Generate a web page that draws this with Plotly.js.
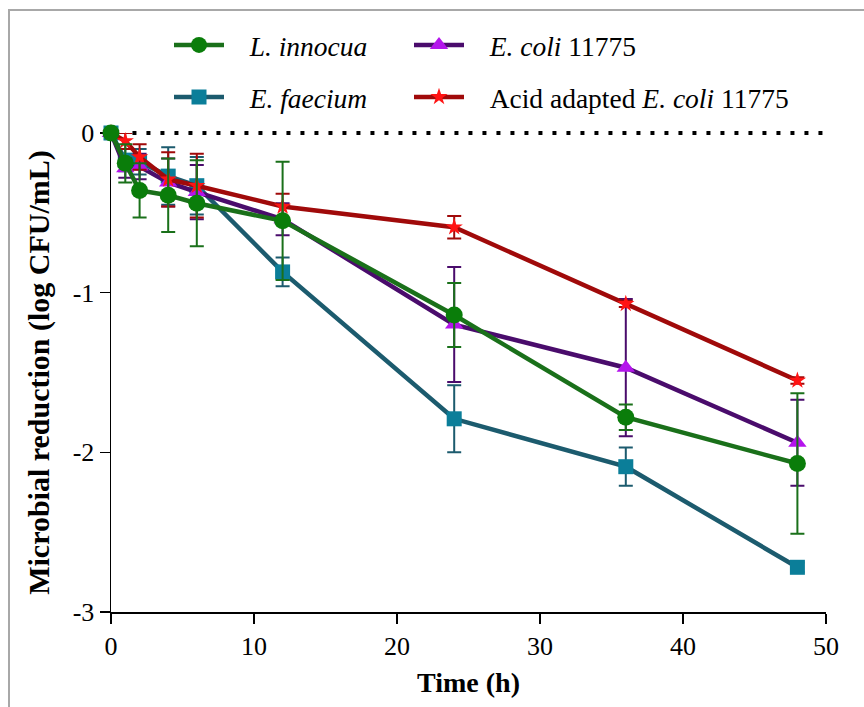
<!DOCTYPE html>
<html>
<head>
<meta charset="utf-8">
<script src="https://cdn.plot.ly/plotly-3.0.1.min.js"></script>
<style>
  html, body { margin: 0; padding: 0; background: #fff; }
  #wrap { position: relative; width: 864px; height: 707px; }
  #chart { position: absolute; left: 0; top: 0; width: 864px; height: 707px; }
  #frame { position: absolute; left: 8px; top: 9px; width: 856px; height: 698px;
           border-top: 2px solid #a8a8a8; border-left: 2px solid #a8a8a8;
           box-sizing: border-box; pointer-events: none; }
</style>
</head>
<body>
<div id="wrap">
  <div id="chart"></div>
  <div id="frame"></div>
</div>
<script>
// Time points (h)
const timeH = [0, 1, 2, 4, 6, 12, 24, 36, 48];

// Microbial reduction (log CFU/mL) and error bars
const innocua      = [0, -0.19, -0.36, -0.39, -0.44, -0.55, -1.14, -1.78, -2.07];
const innocuaErr   = [0, 0.12, 0.17, 0.23, 0.27, 0.37, 0.20, 0.08, 0.44];
const faecium      = [0, -0.17, -0.18, -0.27, -0.33, -0.87, -1.79, -2.09, -2.72];
const faeciumErr   = [0, 0.07, 0.08, 0.18, 0.18, 0.09, 0.21, 0.12, 0.03];
const ecoli        = [0, -0.22, -0.21, -0.31, -0.37, -0.54, -1.20, -1.47, -1.94];
const ecoliErr     = [0, 0.06, 0.08, 0.15, 0.17, 0.10, 0.36, 0.43, 0.27];
const acidEcoli    = [0, -0.05, -0.15, -0.29, -0.33, -0.46, -0.59, -1.07, -1.55];
const acidEcoliErr = [0, 0.05, 0.08, 0.17, 0.20, 0.08, 0.07, 0.02, 0.02];

const xTicks = [0, 10, 20, 30, 40, 50];
const yTicks = [0, -1, -2, -3];

const NB = '\u00a0\u00a0\u00a0';
const names = {
  innocua: NB + '<i>L. innocua</i>',
  faecium: NB + '<i>E. faecium</i>',
  ecoli: NB + '<i>E. coli</i> 11775',
  acid: NB + 'Acid adapted <i>E. coli</i> 11775'
};

function series(y, err, name, lineColor, markerColor, symbol, msize, legend) {
  return {
    x: timeH, y: y, name: name, type: 'scatter', mode: 'lines+markers', cliponaxis: false,
    line: { color: lineColor, width: 4.5 },
    marker: { color: markerColor, symbol: symbol, size: msize, line: { width: 0 } },
    error_y: { type: 'data', array: err, visible: true, color: lineColor, thickness: 2, width: 7 },
    legend: legend
  };
}
const traces = [
  series(faecium, faeciumErr, names.faecium, '#1c5b6e', '#0b7e99', 'square', 15, 'legend3'),
  series(ecoli, ecoliErr, names.ecoli, '#4a0c6c', '#b414ec', 'triangle-up', 16, 'legend2'),
  series(acidEcoli, acidEcoliErr, names.acid, '#a00a0a', '#ff1414', 'star', 13, 'legend4'),
  series(innocua, innocuaErr, names.innocua, '#1a701a', '#0a7d0a', 'circle', 17, 'legend')
];

const fontFam = 'Liberation Serif';
function lg(x, y) {
  return { orientation: 'h', xref: 'container', yref: 'container', xanchor: 'left', yanchor: 'middle',
    x: x / 864, y: 1 - y / 707, itemwidth: 50,
    font: { family: fontFam, size: 27.5, color: '#000' }, bgcolor: 'rgba(0,0,0,0)', borderwidth: 0 };
}
const layout = {
  width: 864, height: 707,
  margin: { l: 111, r: 38, t: 133, b: 95 },
  paper_bgcolor: '#fff', plot_bgcolor: '#fff', showlegend: true,
  font: { family: fontFam, color: '#000' },
  legend: lg(169, 45), legend2: lg(409, 45), legend3: lg(169, 97), legend4: lg(409, 97),
  xaxis: { range: [0, 50], tickvals: xTicks, ticktext: xTicks.map(String),
    showgrid: false, zeroline: false, showline: true, linecolor: '#000', linewidth: 1.5,
    ticks: 'outside', ticklen: 10, tickwidth: 1.5, tickcolor: '#000',
    tickfont: { family: fontFam, size: 26, color: '#000' },
    title: { text: '\u00a0\u00a0\u00a0\u00a0<b>Time (h)</b>', font: { family: fontFam, size: 28, color: '#000' }, standoff: 12 },
    layer: 'below traces' },
  yaxis: { range: [-3, 0], tickvals: yTicks, ticktext: yTicks.map(String),
    showgrid: false, zeroline: false, showline: true, linecolor: '#000', linewidth: 1.5,
    ticks: 'outside', ticklen: 10, tickwidth: 1.5, tickcolor: '#000',
    tickfont: { family: fontFam, size: 26, color: '#000' },
    title: { text: '<b>Microbial reduction (log CFU/mL)</b>', font: { family: fontFam, size: 30, color: '#000' }, standoff: 14 },
    layer: 'below traces' },
  shapes: [{ type: 'line', xref: 'paper', yref: 'paper', x0: 0.03, x1: 1, y0: 1, y1: 1,
    line: { color: '#000', width: 4, dash: '4px,10px' }, layer: 'above' }]
};
Plotly.newPlot('chart', traces, layout, { staticPlot: true, displayModeBar: false });
</script>
</body>
</html>
